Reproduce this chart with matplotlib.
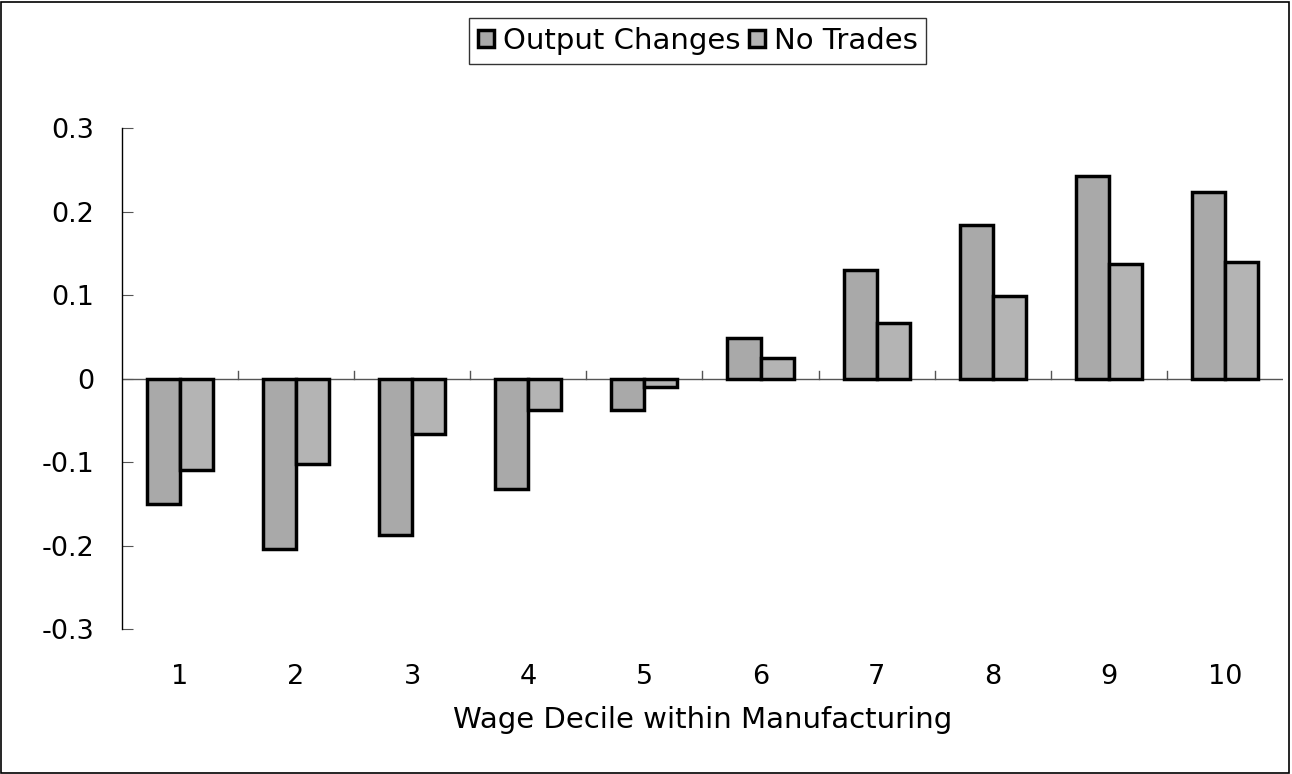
import numpy as np
import matplotlib.pyplot as plt
from matplotlib.patches import Rectangle

# Data
deciles = [1, 2, 3, 4, 5, 6, 7, 8, 9, 10]
output_changes = [-0.150, -0.204, -0.187, -0.132, -0.038, 0.048, 0.130, 0.184, 0.243, 0.223]
no_trades = [-0.109, -0.102, -0.067, -0.038, -0.010, 0.025, 0.066, 0.099, 0.137, 0.140]
yticks = [-0.3, -0.2, -0.1, 0, 0.1, 0.2, 0.3]
ytick_labels = ["-0.3", "-0.2", "-0.1", "0", "0.1", "0.2", "0.3"]

plt.rcParams['font.family'] = ['DejaVu Sans']

fig = plt.figure(figsize=(12.92, 7.74), dpi=100)
ax = fig.add_axes([0.0944, 0.1873, 0.8986, 0.6473])

x = np.array(deciles)
w = 0.285
ax.bar(x - w / 2, output_changes, width=w, color='#a9a9a9', edgecolor='black',
       linewidth=2.5, label='Output Changes', zorder=3)
ax.bar(x + w / 2, no_trades, width=w, color='#b4b4b4', edgecolor='black',
       linewidth=2.5, label='No Trades', zorder=3)

ax.set_xlim(0.5, 10.5)
ax.set_ylim(-0.3, 0.3)

# zero line with category separator ticks
ax.axhline(0, color='#555555', linewidth=1, zorder=2)
for b in x[:-1] + 0.5:
    ax.plot([b, b], [0, 0.0095], color='#555555', linewidth=1, zorder=2)

for s in ['top', 'right', 'bottom']:
    ax.spines[s].set_visible(False)
ax.spines['left'].set_color('black')
ax.spines['left'].set_linewidth(1)

ax.set_yticks(yticks)
ax.set_yticklabels(ytick_labels, fontsize=19.5)
ax.tick_params(axis='y', direction='in', length=8, color='#555555', pad=20)
ax.set_xticks(deciles)
ax.set_xticklabels([str(d) for d in deciles], fontsize=19.5)
ax.tick_params(axis='x', length=0, pad=25)
ax.set_xlabel('Wage Decile within Manufacturing', fontsize=21, labelpad=12)

leg = fig.legend(loc='center', bbox_to_anchor=(0.54, 0.947), ncol=2,
                 fontsize=21, frameon=True, fancybox=False, handlelength=0.55,
                 handleheight=0.55, handletextpad=0.3, columnspacing=0.3,
                 borderpad=0.3)
leg.get_frame().set_edgecolor('black')
leg.get_frame().set_linewidth(1)

# figure border
fig.patches.append(Rectangle((0.001, 0.001), 0.997, 0.997, transform=fig.transFigure,
                             fill=False, edgecolor='black', linewidth=1.2))

fig.savefig('out.png', dpi=100)
